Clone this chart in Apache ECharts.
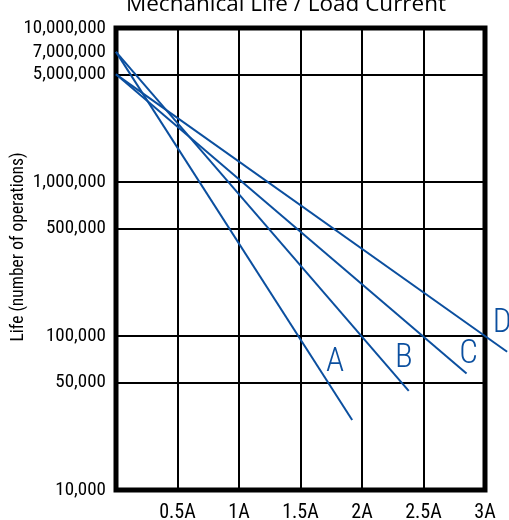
<!DOCTYPE html>
<html>
<head>
<meta charset="utf-8">
<script src="https://cdn.jsdelivr.net/npm/echarts@6/dist/echarts.min.js"></script>
<style>
  html, body { margin: 0; padding: 0; background: #fff; }
  #main { width: 509px; height: 520px; }
</style>
</head>
<body>
<div id="main"></div>
<script>
// curves: straight lines on the log scale, from 0A to where the printed line stops
const curveNames = ['A', 'B', 'C', 'D'];
const startLife = [7000000, 7000000, 5000000, 5000000];
const endCurrent = [1.92, 2.38, 2.85, 3.18];
const endLife = [28500, 44000, 57000, 79000];

// axis values
const xTickStep = 0.5;
const xMax = 3;
const yLabelValues = [10000, 50000, 100000, 500000, 1000000, 5000000, 7000000, 10000000];
const yGridValues = [10000, 50000, 100000, 500000, 1000000, 5000000, 10000000];

const condensed = '"Roboto Condensed", "DejaVu Sans Condensed", sans-serif';
const blue = '#0b4f9f';

// where each letter sits relative to its line end
const letterOffset = [[-17, -57], [-5, -32], [2, -19], [-5, -28]];

// plot box, pixels
const plotLeft = 116, plotRight = 24, plotTop = 28, plotBottom = 30;
const chartWidth = 509;
// the lines run past the 3A border (D does), so they sit on a wider hidden grid with the same scale
const wideMax = xMax * (chartWidth - plotLeft) / (chartWidth - plotLeft - plotRight);

const myChart = echarts.init(document.getElementById('main'));

const series = curveNames.map(function (name, i) {
  return {
    name: name,
    type: 'line',
    xAxisIndex: 1,
    yAxisIndex: 1,
    data: [[0, startLife[i]], [endCurrent[i], endLife[i]]],
    showSymbol: false,
    symbol: 'none',
    clip: false,
    lineStyle: { color: blue, width: 2 },
    endLabel: {
      show: true,
      formatter: name,
      color: blue,
      fontFamily: condensed,
      fontWeight: 300,
      fontSize: 33,
      align: 'center',
      verticalAlign: 'middle',
      distance: 0,
      offset: letterOffset[i]
    }
  };
});

myChart.setOption({
  animation: false,
  title: {
    text: 'Mechanical Life / Load Current',
    left: 281,
    textAlign: 'center',
    top: -12,
    textStyle: { fontFamily: '"Open Sans", sans-serif', fontWeight: 'normal', fontSize: 22.5, color: '#000' }
  },
  grid: [{
    left: plotLeft, right: plotRight, top: plotTop, bottom: plotBottom,
    outerBoundsMode: 'none',
    show: true, borderColor: '#000', borderWidth: 5, backgroundColor: 'transparent'
  }, {
    left: plotLeft, right: 0, top: plotTop, bottom: plotBottom,
    outerBoundsMode: 'none',
    show: false
  }],
  xAxis: [{
    type: 'value',
    gridIndex: 0,
    min: 0, max: xMax, interval: xTickStep,
    axisLine: { show: false },
    axisTick: { show: false },
    splitLine: { show: true, lineStyle: { color: '#000', width: 2 } },
    axisLabel: {
      margin: 13,
      fontFamily: condensed, fontSize: 20, color: '#000',
      formatter: function (v) { return v === 0 ? '' : v + 'A'; }
    }
  }, {
    type: 'value',
    gridIndex: 1,
    min: 0, max: wideMax,
    show: false
  }],
  yAxis: [{
    type: 'log',
    gridIndex: 0,
    logBase: 10,
    min: 10000, max: 10000000,
    name: 'Life (number of operations)',
    nameLocation: 'middle',
    nameGap: 88,
    nameMoveOverlap: false,
    nameTextStyle: { fontFamily: condensed, fontSize: 17.5, color: '#000', padding: [0, 0, 0, 24] },
    axisLine: { show: false },
    axisTick: { show: false, customValues: yGridValues },
    splitLine: { show: true, lineStyle: { color: '#000', width: 2 } },
    axisLabel: {
      customValues: yLabelValues,
      margin: 10,
      padding: [0, 0, 10, 0],
      fontFamily: condensed, fontSize: 19, color: '#000',
      formatter: function (v) { return Math.round(v).toLocaleString('en-US'); }
    }
  }, {
    type: 'log',
    gridIndex: 1,
    logBase: 10,
    min: 10000, max: 10000000,
    show: false
  }],
  series: series
});
</script>
</body>
</html>
